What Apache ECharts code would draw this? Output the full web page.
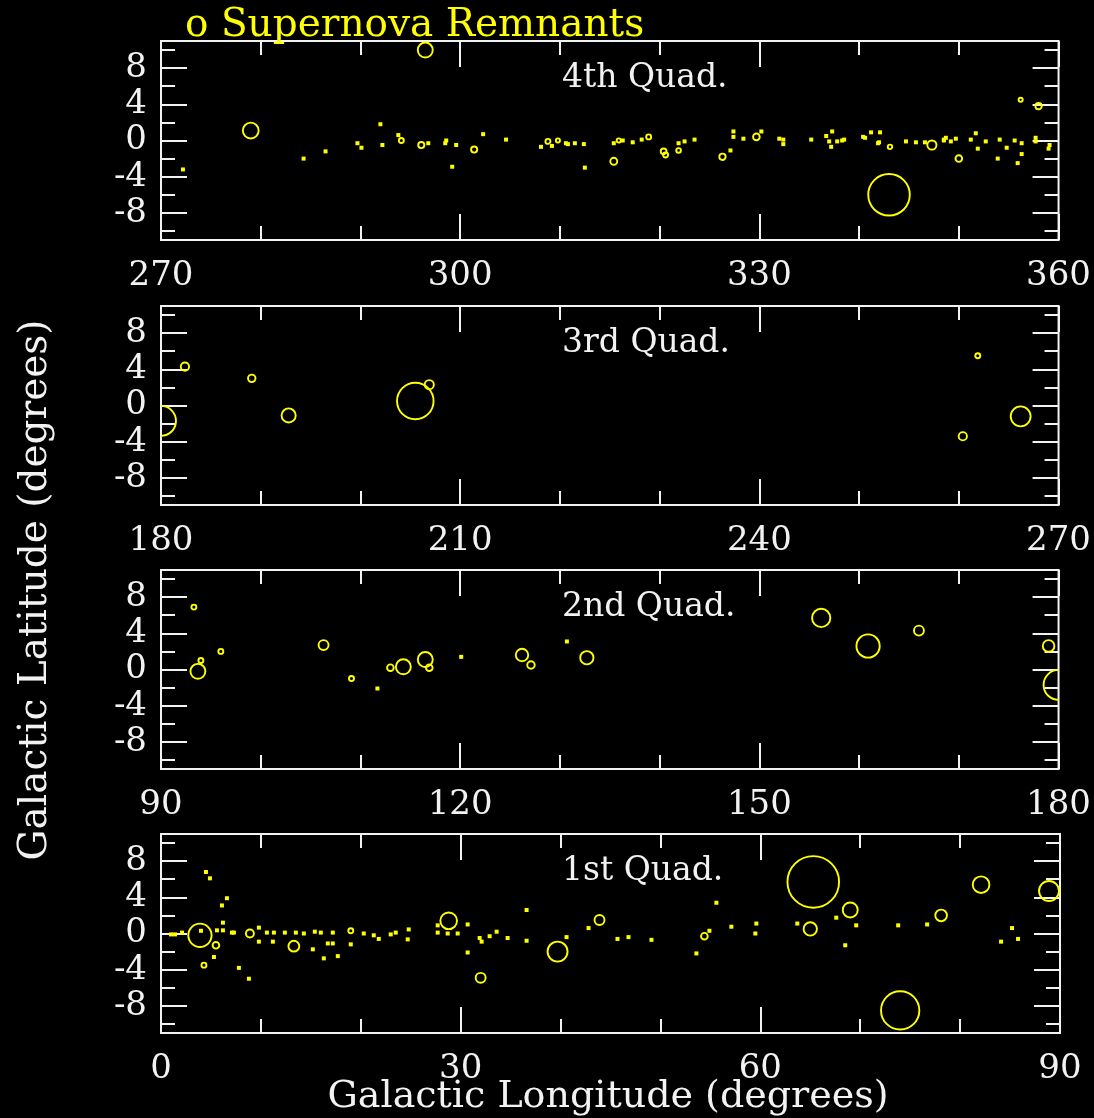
<!DOCTYPE html>
<html>
<head>
<meta charset="utf-8" />
<title>Supernova Remnants</title>
<script src="https://cdn.jsdelivr.net/npm/echarts@6/dist/echarts.min.js"></script>
<style>
  html, body { margin: 0; padding: 0; background: #000; }
  #chart { width: 1094px; height: 1118px; }
</style>
</head>
<body>
<div id="chart"></div>
<script>
// [galactic longitude, galactic latitude, diameter (arcmin)]
const quad4 = [
  [272.2, -3.2, 15], [279.0, 1.1, 95], [284.3, -2.0, 12], [286.5, -1.2, 10],
  [289.7, -0.3, 12], [290.1, -0.8, 12], [292.0, 1.8, 12], [292.2, -0.5, 14],
  [293.8, 0.6, 20], [294.1, 0.0, 30], [296.1, -0.5, 37], [296.5, 10.0, 90],
  [296.8, -0.3, 20], [298.5, -0.3, 5], [298.6, 0.0, 12], [299.2, -2.9, 18],
  [299.6, -0.5, 13], [301.4, -1.0, 37], [302.3, 0.7, 17], [304.6, 0.1, 8],
  [308.1, -0.7, 13], [308.8, -0.1, 30], [309.2, -0.6, 15], [309.8, 0.0, 25],
  [310.6, -0.3, 8], [310.8, -0.4, 12], [311.5, -0.3, 5], [312.4, -0.4, 18],
  [312.5, -3.0, 18], [315.4, -2.3, 42], [315.4, -0.3, 24], [315.9, 0.0, 25],
  [316.3, 0.0, 20], [317.3, -0.2, 11], [318.2, 0.1, 20], [318.9, 0.4, 30],
  [320.4, -1.2, 35], [320.6, -1.6, 30], [321.9, -1.1, 28], [321.9, -0.3, 20],
  [322.5, -0.1, 15], [323.5, 0.1, 13], [326.3, -1.8, 38], [327.1, -1.1, 18],
  [327.4, 0.4, 21], [327.4, 1.0, 14], [328.4, 0.2, 5], [329.7, 0.4, 40],
  [330.2, 1.0, 11], [332.0, 0.2, 12], [332.4, -0.4, 10], [332.4, 0.1, 15],
  [335.2, 0.1, 21], [336.7, 0.5, 14], [337.0, -0.1, 15], [337.2, -0.7, 6],
  [337.3, 1.0, 15], [337.8, -0.1, 9], [338.3, 0.0, 8], [338.5, 0.1, 9],
  [340.4, 0.4, 10], [340.6, 0.3, 6], [341.2, 0.9, 16], [341.9, -0.3, 7],
  [342.0, -0.2, 10], [342.1, 0.9, 10], [343.0, -6.0, 250], [343.1, -0.7, 27],
  [344.7, -0.1, 10], [345.7, -0.2, 6], [346.6, -0.2, 8], [347.3, -0.5, 55],
  [348.5, 0.0, 10], [348.5, 0.1, 15], [348.7, 0.3, 17], [349.2, -0.1, 9],
  [349.7, 0.2, 2], [350.0, -2.0, 40], [351.2, 0.1, 7], [351.7, 0.8, 18],
  [351.9, -0.9, 12], [352.7, -0.1, 8], [353.9, -2.0, 13], [354.1, 0.1, 15],
  [354.8, -0.8, 19], [355.6, 0.0, 8], [355.9, -2.5, 13], [356.2, 4.5, 25],
  [356.3, -0.3, 11], [356.3, -1.5, 20], [357.7, -0.1, 8], [357.7, 0.3, 24],
  [358.0, 3.8, 38], [359.0, -0.9, 23], [359.1, -0.5, 24],
]
const quad3 = [
  [180.0, -1.7, 180], [182.4, 4.3, 50], [189.1, 3.0, 45], [192.8, -1.1, 85],
  [205.5, 0.5, 220], [206.9, 2.3, 55], [260.4, -3.4, 50], [261.9, 5.5, 30],
  [266.2, -1.2, 120],
]
const quad2 = [
  [93.3, 6.9, 30], [93.7, -0.2, 90], [94.0, 1.0, 30], [96.0, 2.0, 30],
  [106.3, 2.7, 60], [109.1, -1.0, 30], [111.7, -2.1, 5], [113.0, 0.2, 40],
  [114.3, 0.3, 90], [116.5, 1.1, 90], [116.9, 0.2, 40], [120.1, 1.4, 8],
  [126.2, 1.6, 75], [127.1, 0.5, 45], [130.7, 3.1, 9], [132.7, 1.3, 80],
  [156.2, 5.7, 110], [160.9, 2.6, 140], [166.0, 4.3, 60], [179.0, 2.6, 70],
  [180.0, -1.7, 180],
]
const quad1 = [
  [1.0, -0.1, 8], [1.4, -0.1, 10], [2.1, 0.1, 4], [3.9, -0.2, 140],
  [4.0, 0.3, 12], [4.5, 6.8, 3], [4.9, 6.1, 6], [6.6, 3.9, 14],
  [6.1, 3.1, 10], [6.2, 1.2, 14], [5.5, -1.3, 40], [5.3, -2.6, 10],
  [4.3, -3.5, 30], [7.8, -3.8, 12], [8.8, -5.0, 14], [5.6, 0.35, 8],
  [6.2, 0.35, 12], [7.1, 0.1, 8], [7.3, 0.1, 8], [8.9, 0.0, 48],
  [9.8, 0.65, 8], [9.8, -0.9, 8], [10.6, 0.1, 8], [11.3, 0.1, 10],
  [11.2, -0.9, 10], [13.3, -1.4, 65], [12.4, 0.1, 10], [13.5, 0.1, 12],
  [14.3, 0.0, 6], [15.4, 0.2, 10], [15.2, -1.75, 12], [16.0, 0.1, 6],
  [16.3, -2.75, 12], [16.7, -1.1, 6], [17.2, -1.1, 6], [17.2, 0.1, 16],
  [17.7, -2.5, 14], [19.0, 0.3, 30], [19.0, -1.2, 24], [20.3, 0.0, 8],
  [21.3, -0.2, 14], [21.8, -0.6, 12], [23.0, -0.1, 24], [23.5, 0.1, 20],
  [24.8, 0.45, 24], [24.7, -0.65, 10], [28.8, 1.4, 100], [27.7, 0.9, 10],
  [27.7, 0.1, 14], [28.7, 0.0, 6], [29.7, 0.0, 6], [30.7, 1.0, 14],
  [30.7, -2.1, 14], [31.9, -0.5, 20], [32.1, -0.9, 24], [32.0, -4.9, 60],
  [32.9, -0.3, 12], [33.6, 0.2, 10], [34.7, -0.5, 10], [36.6, 2.6, 10],
  [36.6, -0.8, 12], [39.7, -2.0, 120], [40.6, -0.4, 8], [42.8, 0.6, 14],
  [43.9, 1.5, 60], [45.7, -0.6, 12], [46.8, -0.4, 10], [49.1, -0.7, 24],
  [53.6, -2.2, 24], [54.4, -0.3, 40], [54.9, 0.3, 10], [55.6, 3.4, 14],
  [57.1, 0.75, 8], [59.5, 0.0, 4], [59.6, 1.1, 14], [63.7, 1.1, 12],
  [65.0, 0.5, 80], [65.3, 5.7, 310], [67.6, 1.75, 4], [68.5, -1.3, 20],
  [69.0, 2.6, 90], [69.6, 0.9, 10], [74.0, -8.5, 230], [73.8, 0.9, 10],
  [76.7, 1.0, 10], [78.1, 2.0, 70], [82.1, 5.4, 100], [85.2, 0.6, 12],
  [84.1, -0.9, 12], [85.8, -0.6, 12], [88.9, 4.7, 120],
]

const panels = [quad4, quad3, quad2, quad1]
const quadNames = ['4th Quad.', '3rd Quad.', '2nd Quad.', '1st Quad.']
const lonStarts = [270, 180, 90, 0]
const latMajor = [-8, -4, 0, 4, 8]
const latMinor = [-10, -6, -2, 2, 6, 10]

let yellow = '#ffff00',
  white = '#f2f2f2',
  font = 'DejaVu Serif',
  panelTops = [41, 306, 570, 834],
  panelLeft = 161,
  panelWidth = 899,
  panelHeight = 199

// 超新星遗迹：按真实角直径画圆，太小的画成点
let drawRemnant = (params, api) => {
  let c = api.coord([api.value(0), api.value(1)])
  let d = api.size([api.value(2) / 60, 0])[0]
  if (d < 4) {
    return {
      type: 'rect',
      shape: { x: c[0] - 2, y: c[1] - 2, width: 4, height: 4 },
      style: { fill: yellow },
    }
  }
  return {
    type: 'circle',
    shape: { cx: c[0], cy: c[1], r: d / 2 },
    style: { fill: 'none', stroke: yellow, lineWidth: 1.9 },
  }
}

let grids = [],
  xAxes = [],
  yAxes = [],
  series = []

panels.forEach((data, i) => {
  grids.push({
    left: panelLeft,
    top: panelTops[i],
    width: panelWidth,
    height: panelHeight,
    show: true,
    borderColor: white,
    borderWidth: 2,
    backgroundColor: 'transparent',
  })
  ;['bottom', 'top'].forEach((pos) => {
    xAxes.push({
      type: 'value',
      gridIndex: i,
      position: pos,
      min: lonStarts[i],
      max: lonStarts[i] + 90,
      interval: 30,
      axisLine: { show: false, onZero: false },
      axisTick: { inside: true, length: 26, lineStyle: { color: white, width: 2 } },
      minorTick: { show: true, splitNumber: 3, length: 14, lineStyle: { color: white, width: 2 } },
      splitLine: { show: false },
      axisLabel: {
        show: pos === 'bottom',
        color: white,
        fontFamily: font,
        fontSize: 34,
        margin: 19,
      },
    })
  })
  ;['left', 'right'].forEach((pos) => {
    ;[
      [latMajor, 26],
      [latMinor, 14],
    ].forEach(([ticks, len], k) => {
      yAxes.push({
        type: 'value',
        gridIndex: i,
        position: pos,
        min: -11,
        max: 11,
        axisLine: { show: false, onZero: false },
        axisTick: {
          inside: true,
          length: len,
          customValues: ticks,
          lineStyle: { color: white, width: 2 },
        },
        splitLine: { show: false },
        axisLabel: {
          show: pos === 'left' && k === 0,
          customValues: latMajor,
          color: white,
          fontFamily: font,
          fontSize: 34,
          margin: 14,
        },
      })
    })
  })
  series.push({
    type: 'custom',
    xAxisIndex: 2 * i,
    yAxisIndex: 4 * i,
    clip: true,
    data: data,
    renderItem: drawRemnant,
  })
})

let texts = quadNames.map((name, i) => ({
  type: 'text',
  x: 562,
  y: panelTops[i] + 37,
  style: { text: name, fill: white, font: `33px "${font}"`, textVerticalAlign: 'middle' },
}))

texts.push(
  {
    type: 'text',
    x: 185,
    y: 26,
    style: { text: 'o Supernova Remnants', fill: yellow, font: `39px "${font}"`, textVerticalAlign: 'middle' },
  },
  {
    type: 'text',
    x: 608,
    y: 1097,
    style: { text: 'Galactic Longitude (degrees)', fill: white, font: `38px "${font}"`, textAlign: 'center', textVerticalAlign: 'middle' },
  },
  {
    type: 'text',
    x: 36,
    y: 590,
    rotation: Math.PI / 2,
    style: { text: 'Galactic Latitude (degrees)', fill: white, font: `39px "${font}"`, textAlign: 'center', textVerticalAlign: 'middle' },
  },
)

let chart = echarts.init(document.getElementById('chart'))
chart.setOption({
  backgroundColor: '#000',
  animation: false,
  grid: grids,
  xAxis: xAxes,
  yAxis: yAxes,
  series: series,
  graphic: texts,
})
</script>
</body>
</html>
